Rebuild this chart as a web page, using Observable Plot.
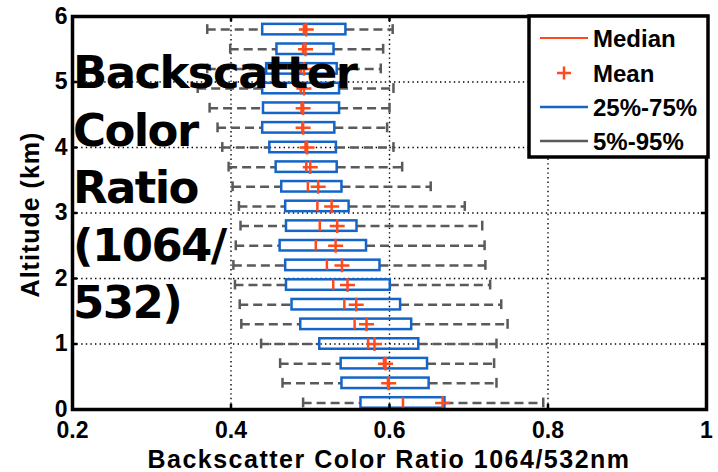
<!DOCTYPE html>
<html>
<head>
<meta charset="utf-8">
<script src="https://cdn.jsdelivr.net/npm/d3@7"></script>
<script src="https://cdn.jsdelivr.net/npm/@observablehq/plot@0.6"></script>
<style>
  html, body { margin: 0; padding: 0; background: #fff; }
  #chart { width: 718px; height: 472px; }
</style>
</head>
<body>
<div id="chart"></div>
<script>
// Altitude bins (km) and backscatter color ratio statistics per bin
const altitude = [0.1, 0.4, 0.7, 1.0, 1.3, 1.6, 1.9, 2.2, 2.5, 2.8, 3.1, 3.4, 3.7, 4.0, 4.3, 4.6, 4.9, 5.2, 5.5, 5.8];
const p5     = [0.491, 0.465, 0.462, 0.438, 0.413, 0.411, 0.405, 0.403, 0.406, 0.412, 0.410, 0.402, 0.397, 0.389, 0.383, 0.373, 0.358, 0.370, 0.399, 0.370];
const q1     = [0.564, 0.540, 0.539, 0.512, 0.488, 0.477, 0.470, 0.469, 0.462, 0.470, 0.469, 0.464, 0.457, 0.449, 0.440, 0.441, 0.440, 0.445, 0.458, 0.440];
const median = [0.617, 0.598, 0.593, 0.573, 0.556, 0.543, 0.529, 0.521, 0.507, 0.512, 0.509, 0.497, 0.495, 0.494, 0.490, 0.489, 0.488, 0.488, 0.491, 0.492];
const mean   = [0.667, 0.599, 0.595, 0.581, 0.571, 0.558, 0.547, 0.540, 0.532, 0.534, 0.527, 0.510, 0.500, 0.496, 0.491, 0.491, 0.492, 0.492, 0.494, 0.495];
const q3     = [0.670, 0.650, 0.648, 0.637, 0.628, 0.614, 0.601, 0.588, 0.571, 0.559, 0.549, 0.540, 0.534, 0.533, 0.531, 0.537, 0.537, 0.534, 0.530, 0.545];
const p95    = [0.794, 0.735, 0.732, 0.735, 0.749, 0.741, 0.727, 0.721, 0.720, 0.717, 0.695, 0.652, 0.616, 0.605, 0.597, 0.600, 0.605, 0.589, 0.592, 0.604];

const xTicks = [0.2, 0.4, 0.6, 0.8, 1];
const yTicks = [0, 1, 2, 3, 4, 5, 6];
const xGrid = [0.4, 0.6, 0.8];
const yGrid = [1, 2, 3, 4, 5];

const legendItems = ["Median", "Mean", "25%-75%", "5%-95%"];
const overlayLines = ["Backscatter", "Color", "Ratio", "(1064/", "532)"];
const xTitle = "Backscatter Color Ratio 1064/532nm";
const yTitle = "Altitude (km)";

const RED = "#ff4a1c";
const BLUE = "#1565c8";
const GRAY = "#5a5a5a";

const rows = altitude.map((alt, i) => ({
  alt, p5: p5[i], q1: q1[i], median: median[i], mean: mean[i], q3: q3[i], p95: p95[i]
}));

// "+" marker drawn as two strokes
const plus = {
  draw(ctx, size) {
    const r = Math.sqrt(size / Math.PI);
    ctx.moveTo(-r, 0); ctx.lineTo(r, 0);
    ctx.moveTo(0, -r * 0.92); ctx.lineTo(0, r * 0.92);
  }
};

const BOX = 0.08;   // half box height, km
const CAP = 0.075;  // half whisker-cap height, km
const TICK_Y = 0.08, TICK_X = 0.0065; // inward tick lengths

const svg = Plot.plot({
  width: 718,
  height: 472,
  marginLeft: 72,
  marginRight: 12,
  marginTop: 16,
  marginBottom: 63,
  x: {domain: [0.2, 1]},
  y: {domain: [0, 6]},
  style: {fontFamily: "'Liberation Sans', Arial, sans-serif", fontSize: "23px", fontWeight: "bold", color: "black", background: "white"},
  marks: [
    // dotted grid
    Plot.ruleX(xGrid, {x: d => d, stroke: "black", strokeWidth: 1.4, strokeDasharray: "1.4,3.2"}),
    Plot.ruleY(yGrid, {y: d => d, stroke: "black", strokeWidth: 1.4, strokeDasharray: "1.4,3.2"}),
    // dashed 5%-95% whiskers
    Plot.ruleY(rows, {y: "alt", x1: "p5", x2: "q1", stroke: GRAY, strokeWidth: 2.5, strokeDasharray: "9,5"}),
    Plot.ruleY(rows, {y: "alt", x1: "q3", x2: "p95", stroke: GRAY, strokeWidth: 2.5, strokeDasharray: "9,5"}),
    Plot.ruleX(rows, {x: "p5", y1: d => d.alt - CAP, y2: d => d.alt + CAP, stroke: GRAY, strokeWidth: 2.5}),
    Plot.ruleX(rows, {x: "p95", y1: d => d.alt - CAP, y2: d => d.alt + CAP, stroke: GRAY, strokeWidth: 2.5}),
    // 25%-75% boxes
    Plot.rect(rows, {x1: "q1", x2: "q3", y1: d => d.alt - BOX, y2: d => d.alt + BOX, fill: "none", stroke: BLUE, strokeWidth: 2.5}),
    // medians and means
    Plot.ruleX(rows, {x: "median", y1: d => d.alt - BOX, y2: d => d.alt + BOX, stroke: RED, strokeWidth: 2.5}),
    Plot.dot(rows, {x: "mean", y: "alt", symbol: plus, r: 7.5, stroke: RED, strokeWidth: 2.5, fill: "none"}),
    // frame with inward ticks
    Plot.frame({stroke: "black", strokeWidth: 3.5}),
    Plot.ruleX(xGrid, {x: d => d, y1: 0, y2: TICK_Y, stroke: "black", strokeWidth: 2.5}),
    Plot.ruleX(xGrid, {x: d => d, y1: 6 - TICK_Y, y2: 6, stroke: "black", strokeWidth: 2.5}),
    Plot.ruleY(yGrid, {y: d => d, x1: 0.2, x2: 0.2 + TICK_X, stroke: "black", strokeWidth: 2.5}),
    Plot.ruleY(yGrid, {y: d => d, x1: 1 - TICK_X, x2: 1, stroke: "black", strokeWidth: 2.5}),
    Plot.axisX({ticks: xTicks, tickSize: 0, tickPadding: 12, tickFormat: d => String(d), label: null}),
    Plot.axisY({ticks: yTicks, tickSize: 0, tickPadding: 5, tickFormat: d => String(d), label: null})
  ]
});

document.getElementById("chart").appendChild(svg);

const root = d3.select(svg);
const [fx0, fx1] = [72, 718 - 12];
const [fy0, fy1] = [16, 472 - 63];

// axis titles
root.append("text")
  .attr("x", (fx0 + fx1) / 2).attr("y", 468)
  .attr("text-anchor", "middle")
  .style("font", "bold 25px 'Liberation Sans', Arial, sans-serif")
  .style("letter-spacing", "1.5px")
  .attr("fill", "black")
  .text(xTitle);

root.append("text")
  .attr("transform", `translate(39,${(fy0 + fy1) / 2 + 2}) rotate(-90)`)
  .attr("text-anchor", "middle")
  .style("font", "bold 25px 'Liberation Sans', Arial, sans-serif")
  .style("letter-spacing", "1px")
  .attr("fill", "black")
  .text(yTitle);

// large annotation over the plot area
const note = root.append("text")
  .attr("x", 73)
  .attr("text-anchor", "start")
  .style("font", "bold 45px 'DejaVu Sans', sans-serif")
  .style("letter-spacing", "-1.6px")
  .attr("fill", "black");
overlayLines.forEach((line, i) => {
  note.append("tspan").attr("x", 73).attr("y", 88 + i * 57.5).text(line);
});

// legend
const lg = root.append("g");
lg.append("rect")
  .attr("x", 529).attr("y", fy0).attr("width", 708 - 529).attr("height", 157 - fy0)
  .attr("fill", "white").attr("stroke", "black").attr("stroke-width", 3.5);
const rowY = [38, 73, 107, 141];
const swatch = [
  g => g.append("line").attr("x1", 540).attr("x2", 588).attr("stroke", RED).attr("stroke-width", 2),
  g => g.append("path").attr("d", "M557,0H571M564,-6.5V6.5").attr("stroke", RED).attr("stroke-width", 2.5).attr("fill", "none"),
  g => g.append("line").attr("x1", 540).attr("x2", 588).attr("stroke", BLUE).attr("stroke-width", 2.5),
  g => g.append("line").attr("x1", 540).attr("x2", 588).attr("stroke", GRAY).attr("stroke-width", 2.5)
];
legendItems.forEach((label, i) => {
  const g = lg.append("g").attr("transform", `translate(0,${rowY[i]})`);
  swatch[i](g);
  g.append("text").attr("x", 593).attr("y", 9)
    .attr("text-anchor", "start")
    .style("font", "bold 24px 'Liberation Sans', Arial, sans-serif")
    .attr("fill", "black").text(label);
});
</script>
</body>
</html>
